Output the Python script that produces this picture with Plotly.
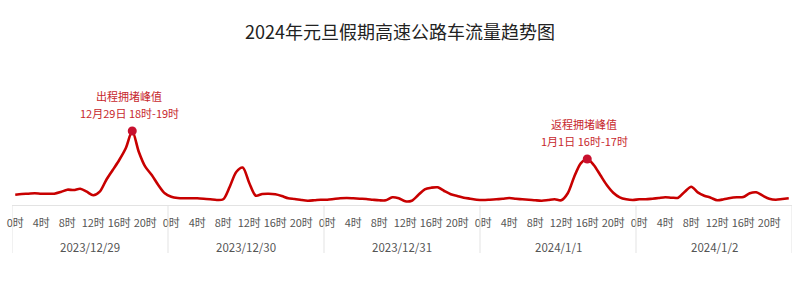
import plotly.graph_objects as go

# Hourly traffic-flow index (relative units)
dates = ["2023/12/29", "2023/12/30", "2023/12/31", "2024/1/1", "2024/1/2"]
day1 = [10.3, 11, 11.3, 11.7, 11.3, 11.3, 11.3, 13, 15.3, 15, 16.3, 13.3, 9.7, 13.3, 25, 35, 45, 56.7, 74, 53.3, 38.3, 30, 20, 11.7]
day2 = [8.3, 7, 6.7, 6.7, 6.7, 6.3, 5.7, 5, 5.7, 18.3, 33, 37.5, 22, 9.3, 11, 11.3, 10.7, 9, 6.7, 6, 5, 4.3, 4.7, 5.3]
day3 = [5.3, 6, 6.7, 7, 6.7, 6.3, 6, 5.3, 4.7, 4.7, 7.7, 6.7, 3.7, 4.3, 10, 15.7, 17.3, 17.7, 14, 10.7, 9, 7.3, 6.3, 5.3]
day4 = [5, 5.3, 5.7, 6.3, 7, 6.3, 5.7, 5.3, 4.7, 4.3, 5, 5.7, 4.7, 11.7, 28.3, 41.7, 46, 40, 30, 20, 12.3, 7.7, 5.7, 5]
day5 = [5.7, 5.7, 6.3, 7, 7.7, 7.3, 7.3, 13.3, 18.3, 12.7, 9.3, 7.3, 4.7, 5.7, 7, 7.7, 8, 11.7, 12.7, 9.3, 6.3, 5.3, 6, 6.7]
hour_labels = ["0时", "4时", "8时", "12时", "16时", "20时"]
peak_titles = ["出程拥堵峰值", "返程拥堵峰值"]
peak_subtitles = ["12月29日 18时-19时", "1月1日 16时-17时"]
peak_days = [0, 3]

days = [day1, day2, day3, day4, day5]
values = [v for d in days for v in d]
x = [i + 0.5 for i in range(len(values))]

LINE = "#c80000"
RED_TXT = "#c7282d"
GRAY = "#e3e3e3"
TXT = "#555555"
FONT = "Noto Sans CJK SC"

fig = go.Figure()
fig.add_trace(go.Scatter(
    x=x, y=values, mode="lines",
    line=dict(color=LINE, width=2.6, shape="spline", smoothing=0.8),
    hoverinfo="skip", showlegend=False))

px, py = [], []
for d in peak_days:
    h = max(range(24), key=lambda k: days[d][k])
    px.append(d * 24 + h + 0.5)
    py.append(days[d][h])
fig.add_trace(go.Scatter(
    x=px, y=py, mode="markers",
    marker=dict(color="#c8102e", size=9, line=dict(width=0)),
    hoverinfo="skip", showlegend=False))

annotations = []
for xi, yi, t1, t2 in zip(px, py, peak_titles, peak_subtitles):
    annotations.append(dict(x=xi, y=yi, xref="x", yref="y", text=t2, showarrow=False,
                            yanchor="bottom", yshift=8, xshift=-3,
                            font=dict(family=FONT, size=11, color=RED_TXT)))
    annotations.append(dict(x=xi, y=yi, xref="x", yref="y", text=t1, showarrow=False,
                            yanchor="bottom", yshift=25, xshift=-3,
                            font=dict(family=FONT, size=11, color=RED_TXT)))

PLOT_H = 145
for d, lab in enumerate(dates):
    annotations.append(dict(x=d * 24 + 12, y=-42 / PLOT_H, xref="x", yref="paper",
                            text=lab, showarrow=False, yanchor="middle",
                            font=dict(family=FONT, size=11.5, color=TXT)))

shapes = []
for d in range(len(dates) + 1):
    shapes.append(dict(type="line", xref="x", yref="paper", x0=d * 24, x1=d * 24,
                       y0=0, y1=-48 / PLOT_H, line=dict(color=GRAY, width=1)))

tickvals, ticktext = [], []
for d in range(len(dates)):
    for k, lab in enumerate(hour_labels):
        tickvals.append(d * 24 + k * 4 + 0.5)
        ticktext.append(lab)

fig.update_layout(
    width=800, height=288,
    margin=dict(l=12, r=8, t=60, b=83),
    paper_bgcolor="white", plot_bgcolor="white",
    title=dict(text="2024年元旦假期高速公路车流量趋势图", x=0.5, xanchor="center",
               y=1 - 33 / 288, yanchor="middle",
               font=dict(family=FONT, size=18, color="#222222")),
    xaxis=dict(range=[0, 120], showgrid=False, zeroline=False,
               showline=True, linecolor=GRAY, linewidth=1,
               tickmode="array", tickvals=tickvals, ticktext=ticktext,
               ticks="", ticklabelstandoff=8, tickangle=0,
               tickfont=dict(family=FONT, size=11, color=TXT)),
    yaxis=dict(range=[0, PLOT_H], visible=False, showgrid=False, zeroline=False),
    annotations=annotations, shapes=shapes,
)

fig.write_html("out.html")
